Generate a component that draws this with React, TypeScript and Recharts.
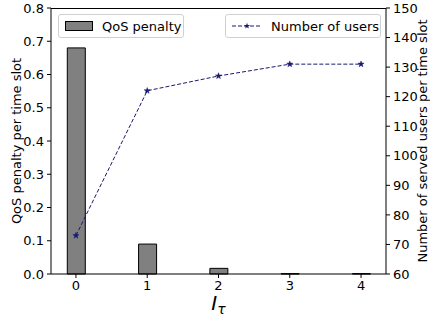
import { ComposedChart, Bar, Line, XAxis, YAxis } from 'recharts';

const xValues = [0, 1, 2, 3, 4];
const qosPenalty = [0.68, 0.09, 0.017, 0.001, 0.001];
const servedUsers = [73, 122, 127, 131, 131];
const leftTicks = [0, 0.1, 0.2, 0.3, 0.4, 0.5, 0.6, 0.7, 0.8];
const rightTicks = [60, 70, 80, 90, 100, 110, 120, 130, 140, 150];

const data = xValues.map((x, i) => ({ x, qos: qosPenalty[i], users: servedUsers[i] }));

const FONT = 'DejaVu Sans, sans-serif';
const NAVY = '#191970';

const starPath = (cx: number, cy: number, r: number) => {
  const pts: string[] = [];
  for (let k = 0; k < 10; k++) {
    const rad = k % 2 === 0 ? r : r * 0.4;
    const a = -Math.PI / 2 + (k * Math.PI) / 5;
    pts.push(`${cx + rad * Math.cos(a)},${cy + rad * Math.sin(a)}`);
  }
  return 'M' + pts.join('L') + 'Z';
};

// @ts-ignore
const StarDot = ({ cx, cy, index }: any) => (
  <path key={index} d={starPath(cx, cy, 3.2)} fill={NAVY} stroke={NAVY} strokeWidth={0.5} />
);

const tickStyle = { fill: '#000', fontSize: 13, fontFamily: FONT };

// @ts-ignore
const XLabel = ({ viewBox }: any) => {
  const cx = viewBox.x + viewBox.width / 2;
  return (
    <text x={cx} y={310} textAnchor="middle" fontFamily={FONT} fill="#000">
      <tspan fontSize={20} fontStyle="italic">I</tspan>
      <tspan fontSize={14} fontStyle="italic" dy={4}>τ</tspan>
    </text>
  );
};

export default function App() {
  return (
    <div style={{ position: 'absolute', left: 0, top: 0, width: 430, height: 320, background: '#fff' }}>
      <ComposedChart width={430} height={320} data={data} margin={{ top: 8, right: 0, bottom: 0, left: 0 }}>
        <XAxis
          dataKey="x"
          type="number"
          domain={[-0.35, 4.35]}
          ticks={xValues}
          tick={tickStyle}
          tickSize={4}
          tickMargin={3}
          axisLine={{ stroke: '#000' }}
          tickLine={{ stroke: '#000' }}
          height={46}
          allowDataOverflow
          label={<XLabel />}
        />
        <YAxis
          yAxisId="left"
          domain={[0, 0.8]}
          ticks={leftTicks}
          tickFormatter={(v: number) => v.toFixed(1)}
          tick={tickStyle}
          tickSize={4}
          tickMargin={3}
          width={51}
          axisLine={{ stroke: '#000' }}
          tickLine={{ stroke: '#000' }}
          label={{ value: 'QoS penalty per time slot', angle: -90, position: 'center', dx: -9, style: { fontSize: 13, fontFamily: FONT, fill: '#000' } }}
        />
        <YAxis
          yAxisId="right"
          orientation="right"
          domain={[60, 150]}
          ticks={rightTicks}
          tick={tickStyle}
          tickSize={4}
          tickMargin={3}
          width={44}
          axisLine={{ stroke: '#000' }}
          tickLine={{ stroke: '#000' }}
          label={{ value: 'Number of served users per time slot', angle: -90, position: 'center', dx: 14, style: { fontSize: 13, fontFamily: FONT, fill: '#000' } }}
        />
        <Bar yAxisId="left" dataKey="qos" barSize={18} fill="#808080" stroke="#000" strokeWidth={1} isAnimationActive={false} />
        <Line
          yAxisId="right"
          dataKey="users"
          stroke={NAVY}
          strokeWidth={1}
          strokeDasharray="4 2"
          dot={<StarDot />}
          activeDot={false}
          isAnimationActive={false}
        />
      </ComposedChart>
      {/* top border of the plot frame */}
      <div style={{ position: 'absolute', left: 51, top: 8, width: 335, height: 0, borderTop: '1px solid #000' }} />
      <div style={{ position: 'absolute', left: 58, top: 14, width: 124, height: 22, border: '1px solid #d0d0d0', borderRadius: 3, background: 'rgba(255,255,255,0.8)', display: 'flex', alignItems: 'center', fontFamily: FONT, fontSize: 13 }}>
        <div style={{ width: 26, height: 8, background: '#808080', border: '1px solid #000', marginLeft: 6, marginRight: 9 }} />
        <span>QoS penalty</span>
      </div>
      <div style={{ position: 'absolute', left: 225, top: 14, width: 154, height: 22, border: '1px solid #d0d0d0', borderRadius: 3, background: 'rgba(255,255,255,0.8)', display: 'flex', alignItems: 'center', fontFamily: FONT, fontSize: 13 }}>
        <svg width={30} height={10} style={{ marginLeft: 6, marginRight: 9 }}>
          <line x1={0} y1={5} x2={30} y2={5} stroke={NAVY} strokeWidth={1} strokeDasharray="4 2" />
          <path d={starPath(15, 5, 3.2)} fill={NAVY} />
        </svg>
        <span>Number of users</span>
      </div>
    </div>
  );
}
